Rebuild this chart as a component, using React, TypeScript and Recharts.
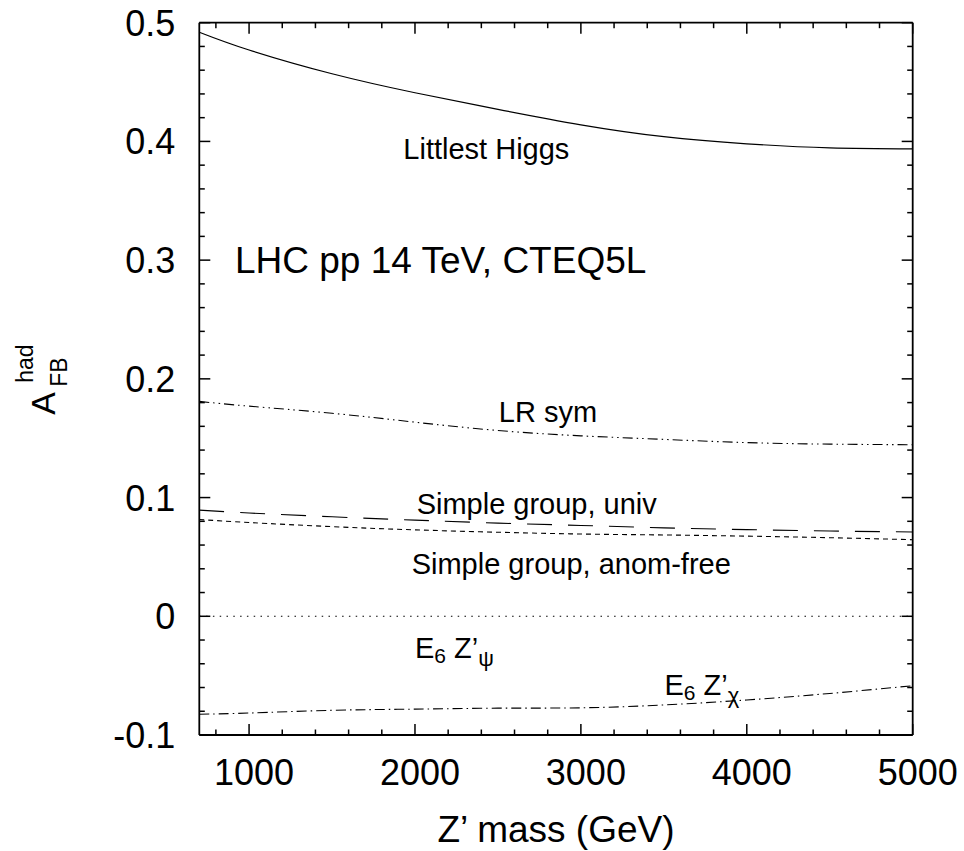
import React from 'react';
import { LineChart, Line, XAxis, YAxis, ReferenceDot } from 'recharts';

// ---- data (Z' mass in GeV, A_FB^had) ----
const masses = [700, 1000, 1500, 2000, 2500, 3000, 3500, 4000, 4500, 5000];
const littlestHiggs = [0.492, 0.477, 0.457, 0.441, 0.427, 0.414, 0.404, 0.398, 0.3946, 0.3938];
const lrSym = [0.181, 0.177, 0.171, 0.1635, 0.1565, 0.152, 0.149, 0.1463, 0.145, 0.1445];
const simpleUniv = [0.0894, 0.087, 0.0838, 0.081, 0.0785, 0.0765, 0.0745, 0.073, 0.0718, 0.071];
const simpleAnomFree = [0.0815, 0.079, 0.0755, 0.0728, 0.0708, 0.0693, 0.0685, 0.0675, 0.0662, 0.0645];
const e6Psi = [0, 0, 0, 0, 0, 0, 0, 0, 0, 0];
const e6Chi = [-0.0825, -0.0815, -0.0792, -0.0782, -0.0774, -0.0771, -0.0747, -0.0705, -0.065, -0.0585];

// ---- ticks ----
const xMajorTicks = [1000, 2000, 3000, 4000, 5000];
const xMinorTicks = [800, 1200, 1400, 1600, 1800, 2200, 2400, 2600, 2800, 3200, 3400, 3600, 3800, 4200, 4400, 4600, 4800];
const yMajorTicks = [-0.1, 0, 0.1, 0.2, 0.3, 0.4, 0.5];
const yMinorTicks = [-0.08, -0.06, -0.04, -0.02, 0.02, 0.04, 0.06, 0.08, 0.12, 0.14, 0.16, 0.18, 0.22, 0.24, 0.26, 0.28, 0.32, 0.34, 0.36, 0.38, 0.42, 0.44, 0.46, 0.48];
const xDomain: [number, number] = [700, 5000];
const yDomain: [number, number] = [-0.1, 0.5];

// ---- text ----
const xTitle = 'Z\u2019 mass (GeV)';
const plainLabels = [
  { mass: 1930, value: 0.385, text: 'Littlest Higgs', size: 29 },
  { mass: 915, value: 0.289, text: 'LHC pp 14 TeV, CTEQ5L', size: 37 },
  { mass: 2505, value: 0.164, text: 'LR sym', size: 29 },
  { mass: 2010, value: 0.0859, text: 'Simple group, univ', size: 29 },
  { mass: 1980, value: 0.0354, text: 'Simple group, anom-free', size: 29 },
];
const e6Labels = [
  { mass: 2000, value: -0.0354, sub: '\u03c8' },
  { mass: 3504, value: -0.0663, sub: '\u03c7' },
];

const data = masses.map((m, i) => ({
  mass: m,
  lh: littlestHiggs[i],
  lr: lrSym[i],
  univ: simpleUniv[i],
  anom: simpleAnomFree[i],
  psi: e6Psi[i],
  chi: e6Chi[i],
}));

const FONT = '"Liberation Sans", Arial, Helvetica, sans-serif';
const allXTicks = [...xMajorTicks, ...xMinorTicks].sort((a, b) => a - b);
const allYTicks = [...yMajorTicks, ...yMinorTicks].sort((a, b) => a - b);
const near = (v: number, arr: number[]) => arr.some((a) => Math.abs(a - v) < 1e-6);
const MAJOR = 11;
const MINOR = 5.5;
const TICK_W = 1.5;

const BottomTick = (p: any) => {
  const v = p.payload.value;
  const major = near(v, xMajorTicks);
  return (
    <g>
      <line x1={p.x} x2={p.x} y1={p.y} y2={p.y - (major ? MAJOR : MINOR)} stroke="#000" strokeWidth={TICK_W} />
      {major && (
        <text x={p.x + 5} y={p.y + 50} textAnchor="middle" fontSize={36} fontFamily={FONT} fill="#000">
          {String(v)}
        </text>
      )}
    </g>
  );
};
const TopTick = (p: any) => {
  const major = near(p.payload.value, xMajorTicks);
  return <line x1={p.x} x2={p.x} y1={p.y} y2={p.y + (major ? MAJOR : MINOR)} stroke="#000" strokeWidth={TICK_W} />;
};
const LeftTick = (p: any) => {
  const v = p.payload.value;
  const major = near(v, yMajorTicks);
  const lbl = Math.abs(v) < 1e-9 ? '0' : String(Math.round(v * 10) / 10);
  return (
    <g>
      <line x1={p.x} x2={p.x + (major ? MAJOR : MINOR)} y1={p.y} y2={p.y} stroke="#000" strokeWidth={TICK_W} />
      {major && (
        <text x={p.x - 24} y={p.y + 13} textAnchor="end" fontSize={36} fontFamily={FONT} fill="#000">
          {lbl}
        </text>
      )}
    </g>
  );
};
const RightTick = (p: any) => {
  const major = near(p.payload.value, yMajorTicks);
  return <line x1={p.x} x2={p.x - (major ? MAJOR : MINOR)} y1={p.y} y2={p.y} stroke="#000" strokeWidth={TICK_W} />;
};

const YLabel = (props: any) => {
  const vb = props.viewBox || { x: 0, y: 0, width: 0, height: 0 };
  const cy = vb.y + vb.height / 2;
  const x0 = vb.x;
  return (
    <g fontFamily={FONT} fill="#000">
      <text transform={`translate(${x0 + 55}, ${cy + 36}) rotate(-90)`} fontSize={34}>A</text>
      <text transform={`translate(${x0 + 66.5}, ${cy + 8}) rotate(-90)`} fontSize={23}>FB</text>
      <text transform={`translate(${x0 + 33}, ${cy + 4}) rotate(-90)`} fontSize={23}>had</text>
    </g>
  );
};

const XTitle = (props: any) => {
  const vb = props.viewBox || { x: 0, y: 0, width: 0, height: 0 };
  return (
    <text x={vb.x + vb.width / 2} y={vb.y + 107} textAnchor="middle" fontSize={37} fontFamily={FONT} fill="#000">
      {xTitle}
    </text>
  );
};

const axisLine = { stroke: '#000', strokeWidth: 1.8 };

export default function App() {
  return (
    <div style={{ position: 'absolute', left: 0, top: 0, background: '#fff' }}>
      <LineChart
        width={964}
        height={851}
        data={data}
        margin={{ top: 21.7, right: 50.3, bottom: 16, left: 0 }}
      >
        <XAxis
          xAxisId="bottom"
          dataKey="mass"
          type="number"
          orientation="bottom"
          domain={xDomain}
          allowDataOverflow
          ticks={allXTicks}
          interval={0}
          height={100}
          tickSize={0}
          tickMargin={0}
          tickLine={false}
          axisLine={axisLine}
          tick={(p: any) => <BottomTick {...p} />}
          label={<XTitle />}
        />
        <XAxis
          xAxisId="top"
          dataKey="mass"
          type="number"
          orientation="top"
          domain={xDomain}
          allowDataOverflow
          ticks={allXTicks}
          interval={0}
          height={1}
          tickSize={0}
          tickMargin={0}
          tickLine={false}
          axisLine={axisLine}
          tick={(p: any) => <TopTick {...p} />}
        />
        <YAxis
          yAxisId="left"
          type="number"
          orientation="left"
          domain={yDomain}
          allowDataOverflow
          ticks={allYTicks}
          interval={0}
          width={199.3}
          tickSize={0}
          tickMargin={0}
          tickLine={false}
          axisLine={axisLine}
          tick={(p: any) => <LeftTick {...p} />}
          label={<YLabel />}
        />
        <YAxis
          yAxisId="right"
          type="number"
          orientation="right"
          domain={yDomain}
          allowDataOverflow
          ticks={allYTicks}
          interval={0}
          width={1}
          tickSize={0}
          tickMargin={0}
          tickLine={false}
          axisLine={axisLine}
          tick={(p: any) => <RightTick {...p} />}
        />

        {/* invisible series binding the mirrored frame axes */}
        <Line xAxisId="top" yAxisId="right" type="natural" dataKey="psi" stroke="none" strokeWidth={0} dot={false} activeDot={false} legendType="none" isAnimationActive={false} />

        <Line xAxisId="bottom" yAxisId="left" type="natural" dataKey="lh" stroke="#000" strokeWidth={1.2} dot={false} isAnimationActive={false} />
        <Line xAxisId="bottom" yAxisId="left" type="natural" dataKey="lr" stroke="#000" strokeWidth={1.1} strokeDasharray="10 4 1.5 4 1.5 4" dot={false} isAnimationActive={false} />
        <Line xAxisId="bottom" yAxisId="left" type="natural" dataKey="univ" stroke="#000" strokeWidth={1.1} strokeDasharray="25 16" dot={false} isAnimationActive={false} />
        <Line xAxisId="bottom" yAxisId="left" type="natural" dataKey="anom" stroke="#000" strokeWidth={1.1} strokeDasharray="5 4" dot={false} isAnimationActive={false} />
        <Line xAxisId="bottom" yAxisId="left" type="linear" dataKey="psi" stroke="#000" strokeWidth={1.1} strokeDasharray="1.5 5.3" dot={false} isAnimationActive={false} />
        <Line xAxisId="bottom" yAxisId="left" type="natural" dataKey="chi" stroke="#000" strokeWidth={1.1} strokeDasharray="10 4 1.5 4" dot={false} isAnimationActive={false} />

        {plainLabels.map((l) => (
          <ReferenceDot
            key={l.text}
            xAxisId="bottom"
            yAxisId="left"
            x={l.mass}
            y={l.value}
            r={0}
            shape={(p: any) => (
              <text x={p.cx} y={p.cy} fontSize={l.size} fontFamily={FONT} fill="#000">
                {l.text}
              </text>
            )}
          />
        ))}
        {e6Labels.map((l) => (
          <ReferenceDot
            key={l.sub}
            xAxisId="bottom"
            yAxisId="left"
            x={l.mass}
            y={l.value}
            r={0}
            shape={(p: any) => (
              <text x={p.cx} y={p.cy} fontSize={29} fontFamily={FONT} fill="#000">
                <tspan>E</tspan>
                <tspan fontSize={21} dy={5}>6</tspan>
                <tspan dy={-5}>{' Z\u2019'}</tspan>
                <tspan fontSize={22} dy={8}>{l.sub}</tspan>
              </text>
            )}
          />
        ))}
      </LineChart>
    </div>
  );
}
